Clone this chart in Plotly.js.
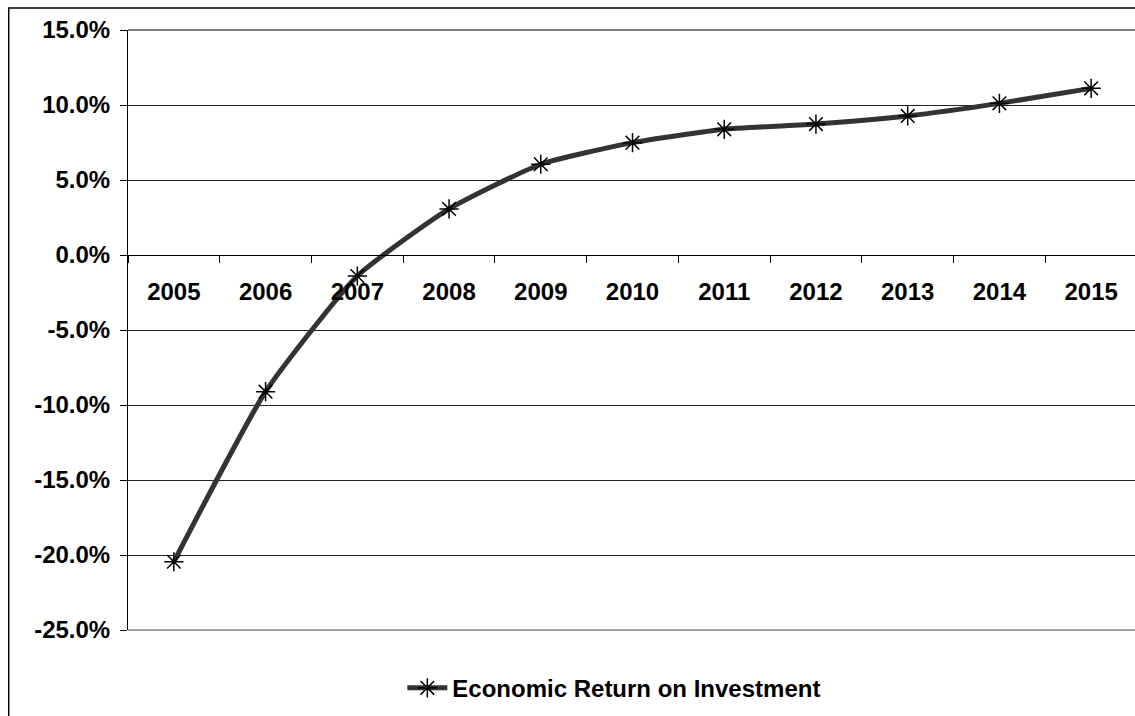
<!DOCTYPE html>
<html>
<head>
<meta charset="utf-8">
<script src="https://cdn.plot.ly/plotly-3.0.1.min.js"></script>
<style>
html, body { margin: 0; padding: 0; background: #fff; overflow: hidden; }
#chart { width: 1137px; height: 716px; }
</style>
</head>
<body>
<div id="chart"></div>
<script>
var years = ["2005", "2006", "2007", "2008", "2009", "2010", "2011", "2012", "2013", "2014", "2015"];
var economicReturn = [-0.2045, -0.0911, -0.014, 0.0307, 0.0605, 0.0749, 0.0838, 0.0873, 0.0927, 0.1011, 0.1111];
var yTickValues = [0.15, 0.10, 0.05, 0.0, -0.05, -0.10, -0.15, -0.20, -0.25];
var yTickLabels = ["15.0%", "10.0%", "5.0%", "0.0%", "-5.0%", "-10.0%", "-15.0%", "-20.0%", "-25.0%"];
var seriesName = "Economic Return on Investment";

var font = "Liberation Sans, Arial, sans-serif";

var trace = {
  type: "scatter",
  mode: "lines+markers",
  x: years,
  y: economicReturn,
  name: seriesName,
  line: { color: "#333333", width: 5, shape: "spline", smoothing: 0.5 },
  marker: { symbol: "asterisk-open", size: 16, color: "#000000", line: { color: "#000000", width: 1.5 } },
  cliponaxis: false
};

var layout = {
  width: 1137,
  height: 716,
  margin: { l: 128, r: 0, t: 30, b: 86 },
  paper_bgcolor: "#ffffff",
  plot_bgcolor: "#ffffff",
  showlegend: true,
  legend: {
    orientation: "h",
    x: 0.482, xanchor: "center",
    y: -0.097, yanchor: "middle",
    font: { family: font, size: 24, color: "#000000", weight: "bold" },
    itemwidth: 40
  },
  xaxis: {
    type: "category",
    anchor: "free",
    position: 0.625,
    range: [-0.5, 10.5],
    showgrid: false,
    zeroline: false,
    showline: true,
    linecolor: "#000000",
    linewidth: 1,
    ticks: "outside",
    tickson: "boundaries",
    ticklen: 7,
    tickcolor: "#000000",
    tickwidth: 1,
    ticklabelstandoff: 15,
    tickfont: { family: font, size: 24, color: "#000000", weight: "bold" },
    fixedrange: true
  },
  yaxis: {
    range: [-0.25, 0.15],
    tickvals: yTickValues,
    ticktext: yTickLabels,
    showgrid: true,
    gridcolor: "#222222",
    gridwidth: 1,
    zeroline: false,
    showline: true,
    linecolor: "#000000",
    linewidth: 1,
    ticks: "outside",
    ticklen: 7,
    tickcolor: "#000000",
    tickwidth: 1,
    ticklabelstandoff: 5,
    tickfont: { family: font, size: 24, color: "#000000", weight: "bold" },
    fixedrange: true
  },
  shapes: [
    { type: "line", xref: "paper", yref: "paper", x0: 0, x1: 1, y0: 1, y1: 1,
      line: { color: "#808080", width: 2 } },
    { type: "line", xref: "paper", yref: "paper", x0: 0, x1: 1, y0: 0, y1: 0,
      line: { color: "#a0a0a0", width: 2 } },
    { type: "rect", xref: "paper", yref: "paper", x0: -0.1182, x1: 1.2, y0: -0.3, y1: 1.0367,
      line: { color: "#000000", width: 1.5 }, fillcolor: "rgba(0,0,0,0)", layer: "below" }
  ]
};

Plotly.newPlot("chart", [trace], layout, { staticPlot: true, displayModeBar: false });
</script>
</body>
</html>
